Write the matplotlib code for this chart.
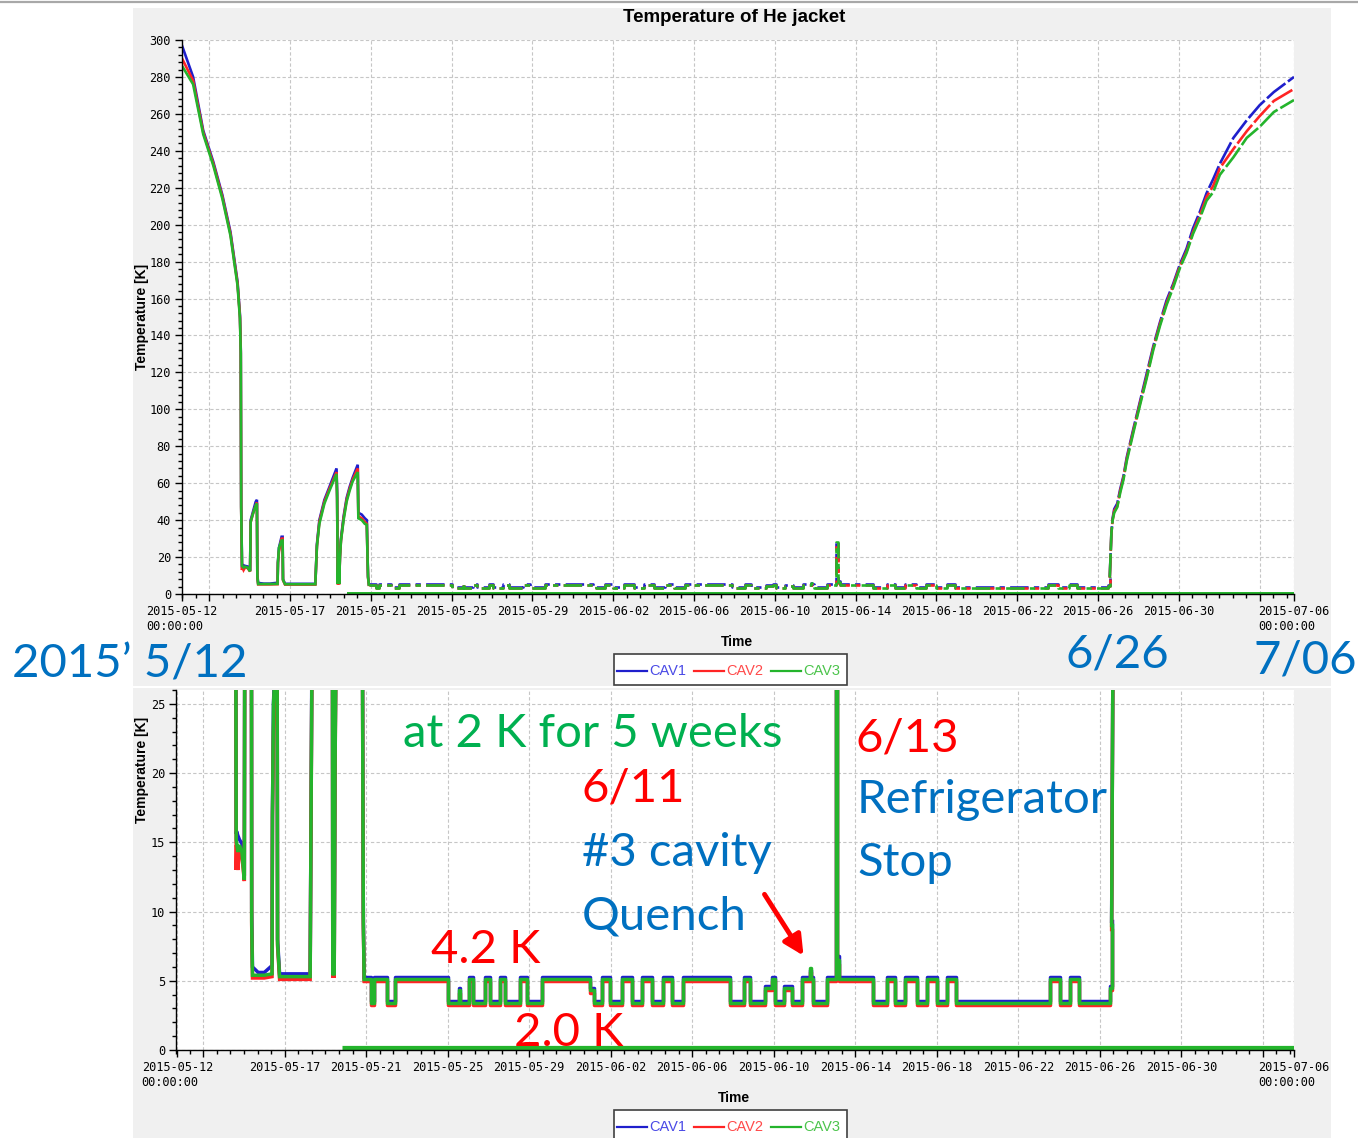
import numpy as np
import matplotlib
matplotlib.use('Agg')
import matplotlib.pyplot as plt
import matplotlib.dates as mdates
from matplotlib.patches import Rectangle, FancyArrowPatch
from matplotlib.lines import Line2D

W, H = 1358, 1138

# ---------------- data (days after 2015-05-12 00:00) ----------------
# cool-down part (linear segments)
cool_days = [-0.35, 0.2, 0.7, 1.2, 1.65, 2.05, 2.4, 2.52, 2.56, 2.58, 2.62, 2.64, 2.70, 2.78, 2.90,
             3.02, 3.05, 3.15, 3.30, 3.36, 3.38, 3.42, 3.70, 4.00, 4.38, 4.40, 4.45, 4.58, 4.63, 4.65,
             4.75, 5.50, 6.25, 6.27, 6.33, 6.45, 6.70, 6.95, 7.30, 7.33, 7.36, 7.40, 7.43, 7.47, 7.52,
             7.65, 7.80, 7.95, 8.10, 8.35, 8.38, 8.55, 8.70, 8.80, 8.83, 8.86, 8.90]
cool_cav1 = [297, 280, 251, 234, 216, 196, 169, 151, 132, 48, 15.6, 15.8, 15.5, 15.2, 14.9,
             12.6, 40, 44, 50, 51, 10.2, 6.0, 5.6, 5.6, 6.1, 17.2, 25, 31, 31, 8.0,
             5.5, 5.5, 5.5, 10.8, 27, 40, 51, 58, 68, 55, 5.6, 22.5, 5.6, 21, 30,
             42, 52, 58, 63, 70, 44, 43, 41, 40, 23, 9.6, 5.26]
cool_cav2 = [290, 278, 250, 233, 215, 195, 168, 150, 131, 47, 13.0, 14.8, 13.0, 14.5, 14.0,
             12.2, 39, 43, 48, 49.5, 9.0, 5.2, 5.2, 5.2, 5.3, 16.8, 23, 30, 30, 7.5,
             5.1, 5.1, 5.1, 10.5, 26, 39, 50, 57, 66, 52, 5.2, 21.5, 5.2, 20, 29,
             41, 51, 57, 62, 68, 42, 41, 39, 38, 22, 9.0, 4.98]
cool_cav3 = [286, 276, 249, 232, 214, 194, 167, 149, 130, 47, 15.2, 15.0, 14.3, 14.8, 14.3,
             12.3, 39, 43, 48, 49, 9.3, 5.4, 5.4, 5.4, 5.5, 17, 25, 29, 29, 7.7,
             5.3, 5.3, 5.3, 10.6, 26, 38, 49, 56, 65, 52, 5.4, 22, 5.4, 20, 29,
             40, 50, 56, 61, 66, 41, 40, 38, 37.5, 22, 9.2, 5.12]

# cold operation (step changes)
cold_days = [8.90, 9.26, 9.38, 10.00, 10.39, 13.00, 13.55, 13.62, 14.04, 14.25, 14.85, 15.07,
             15.55, 15.83, 16.53, 16.90, 17.63, 20.00, 20.16, 20.57, 20.97, 21.55, 22.04, 22.53,
             23.02, 23.56, 24.00, 24.54, 26.86, 27.52, 27.84, 28.58, 28.90, 29.07, 29.48, 29.89,
             30.38, 30.78, 30.85, 30.95, 31.60, 32.05, 32.12, 32.20, 33.88, 34.54, 34.95, 35.44,
             36.01, 36.50, 36.99, 37.51, 37.94, 42.54, 43.03, 43.56, 43.98, 45.50, 45.58]
cold_cav1 = [5.26, 3.56, 5.26, 3.56, 5.26, 3.56, 4.45, 3.56, 5.26, 3.56, 5.26, 3.56,
             5.26, 3.56, 5.26, 3.56, 5.26, 4.45, 3.56, 5.26, 3.56, 5.26, 3.56, 5.26,
             3.56, 5.26, 3.56, 5.26, 3.56, 5.26, 3.56, 4.65, 5.26, 3.56, 4.65, 3.56,
             5.26, 5.75, 5.26, 3.56, 5.26, 28.5, 6.8, 5.26, 3.56, 5.26, 3.56, 5.26,
             3.56, 5.26, 3.56, 5.26, 3.56, 5.26, 3.56, 5.26, 3.56, 4.65, 9.3]
cold_cav2 = [4.98, 3.28, 4.98, 3.28, 4.98, 3.28, 4.15, 3.28, 4.98, 3.28, 4.98, 3.28,
             4.98, 3.28, 4.98, 3.28, 4.98, 4.15, 3.28, 4.98, 3.28, 4.98, 3.28, 4.98,
             3.28, 4.98, 3.28, 4.98, 3.28, 4.98, 3.28, 4.35, 4.98, 3.28, 4.35, 3.28,
             4.98, 5.6, 4.98, 3.28, 4.98, 27.5, 6.2, 4.98, 3.28, 4.98, 3.28, 4.98,
             3.28, 4.98, 3.28, 4.98, 3.28, 4.98, 3.28, 4.98, 3.28, 4.35, 8.7]
cold_cav3 = [5.12, 3.42, 5.12, 3.42, 5.12, 3.42, 4.3, 3.42, 5.12, 3.42, 5.12, 3.42,
             5.12, 3.42, 5.12, 3.42, 5.12, 4.3, 3.42, 5.12, 3.42, 5.12, 3.42, 5.12,
             3.42, 5.12, 3.42, 5.12, 3.42, 5.12, 3.42, 4.5, 5.12, 3.42, 4.5, 3.42,
             5.12, 5.9, 5.12, 3.42, 5.12, 28.0, 6.5, 5.12, 3.42, 5.12, 3.42, 5.12,
             3.42, 5.12, 3.42, 5.12, 3.42, 5.12, 3.42, 5.12, 3.42, 4.5, 9.0]

# warm-up (linear)
warm_days = [45.58, 45.66, 45.72, 45.80, 45.95, 46.10, 46.26, 46.42, 46.76, 47.07, 47.40, 47.73,
             48.06, 48.39, 48.72, 49.05, 49.38, 49.70, 50.04, 50.37, 50.70, 51.03, 51.70, 52.36,
             53.00, 53.70, 54.70]
warm_cav1 = [9.3, 33, 41, 46, 49, 57, 64, 74, 90, 104, 119, 134,
             147, 159, 168, 178.5, 187, 198, 207, 217, 224.7, 233, 247, 256.5,
             264.7, 271.8, 280]
warm_cav2 = [8.7, 33, 40, 45, 47.5, 56, 63, 73, 89, 103, 117.5, 133,
             146, 157.5, 167, 177.5, 185.5, 196, 205, 215, 221, 230.6, 241, 250.6,
             258.8, 267, 273.5]
warm_cav3 = [9.0, 33, 40, 44, 47, 55, 62, 72, 88, 102, 116.5, 132,
             145, 156.5, 166, 176.5, 184.7, 195, 203.5, 213, 217.6, 227, 236.5, 247,
             253, 261, 267.5]

# flat trace lying on the axis (2 K region)
zero_days = [7.80, 54.70]
zero_temp = [0.15, 0.15]

series = ['CAV1', 'CAV2', 'CAV3']
colors = ['#1f1fcc', '#ff2424', '#24b42c']
text_colors = ['#4a4ae6', '#ff4a4a', '#4cc44c']

tick_dates = ['2015-05-13', '2015-05-17', '2015-05-21', '2015-05-25', '2015-05-29', '2015-06-02',
              '2015-06-06', '2015-06-10', '2015-06-14', '2015-06-18', '2015-06-22', '2015-06-26',
              '2015-06-30', '2015-07-04']
tick_labels = ['', '2015-05-17', '2015-05-21', '2015-05-25', '2015-05-29', '2015-06-02',
               '2015-06-06', '2015-06-10', '2015-06-14', '2015-06-18', '2015-06-22', '2015-06-26',
               '2015-06-30', '']
edge_labels = ['2015-05-12\n00:00:00', '2015-07-06\n00:00:00']

# ---------------- figure ----------------
t0 = mdates.datestr2num('2015-05-12')
fig = plt.figure(figsize=(W / 100, H / 100), dpi=100)
fig.patch.set_facecolor('white')

def fx(x):
    return x / W

def fy(y):
    return 1 - y / H

# grey screenshot panels
for x0, y0, x1, y1 in [(133, 8, 1331, 686), (133, 688, 1331, 1138)]:
    fig.patches.append(Rectangle((fx(x0), fy(y1)), (x1 - x0) / W, (y1 - y0) / H,
                                 transform=fig.transFigure, facecolor='#f0f0f0',
                                 edgecolor='none', zorder=-10))
fig.add_artist(Line2D([0, 1], [fy(1.5), fy(1.5)], color='#a8a8a8', lw=1.6))

ax1 = fig.add_axes([fx(182), fy(594), (1294 - 182) / W, (594 - 40) / H])
ax2 = fig.add_axes([fx(176), fy(1050), (1294 - 176) / W, (1050 - 690) / H])

cav_data = [(cool_cav1, cold_cav1, warm_cav1),
            (cool_cav2, cold_cav2, warm_cav2),
            (cool_cav3, cold_cav3, warm_cav3)]


def draw(ax, xl, ymax, ymaj, ymin, lw, cold_ls, warm_ls):
    ax.set_facecolor('white')
    for (cool, cold, warm), c in zip(cav_data, colors):
        ax.plot(t0 + np.array(cool_days), cool, color=c, lw=lw, solid_joinstyle='miter')
        ax.step(t0 + np.array(cold_days), cold, where='post', color=c, lw=lw, ls=cold_ls)
        ax.plot(t0 + np.array(warm_days), warm, color=c, lw=lw, ls=warm_ls)
    ax.plot(t0 + np.array(zero_days), zero_temp, color=colors[2], lw=lw * 1.5,
            solid_capstyle='butt')

    xlo, xhi = t0 + xl[0], t0 + xl[1]
    ax.set_xlim(xlo, xhi)
    ax.set_ylim(0, ymax)
    grid = [mdates.datestr2num(d) for d in tick_dates]
    ax.set_xticks([xlo] + grid + [xhi])
    lbls = ax.set_xticklabels([edge_labels[0]] + tick_labels + [edge_labels[1]])
    lbls[0].set_multialignment('left')
    lbls[-1].set_multialignment('left')
    ax.set_xticks(np.arange(grid[0] - 4 / 3, xhi, 2 / 3), minor=True)
    ax.set_yticks(np.arange(0, ymax + 0.1, ymaj))
    ax.set_yticks(np.arange(0, ymax + 0.1, ymin), minor=True)

    for s in ['top', 'right']:
        ax.spines[s].set_visible(False)
    for s in ['left', 'bottom']:
        ax.spines[s].set_linewidth(1.0)
        ax.spines[s].set_color('black')
    ax.tick_params(which='both', direction='out', width=1, color='black',
                   labelsize=8.6, labelfontfamily='DejaVu Sans Mono')
    ax.tick_params(which='major', length=5, pad=3)
    ax.tick_params(which='minor', length=3)
    ax.grid(which='major', color='#c6c6c6', linestyle=(0, (3, 2)), lw=0.8)
    ax.set_axisbelow(True)


# top screenshot: sparse logging makes the flat / slow parts look broken
draw(ax1, (-0.35, 54.70), 300, 20, 4, 1.9, (0, (7, 2, 2, 2)), (0, (9, 1.2)))
draw(ax2, (-0.27, 54.53), 26, 5, 1, 2.5, '-', '-')

# chart texts
fig.text(fx(734.5), fy(18), 'Temperature of He jacket', ha='center', va='center',
         fontsize=13.5, fontweight='bold', family='Liberation Sans')
for yc in [317, 770]:
    fig.text(fx(142), fy(yc), 'Temperature [K]', ha='center', va='center', rotation=90,
             fontsize=10, fontweight='bold', family='Liberation Sans')
for x, y in [(737, 642), (734, 1098)]:
    fig.text(fx(x), fy(y), 'Time', ha='center', va='center', fontsize=10,
             fontweight='bold', family='Liberation Sans')

# legends
def legend(y_top):
    fig.patches.append(Rectangle((fx(614), fy(y_top + 31)), 233 / W, 31 / H,
                                 transform=fig.transFigure, facecolor='white',
                                 edgecolor='#404040', lw=1.2, zorder=3))
    yc = y_top + 17
    for i, (name, c, tc) in enumerate(zip(series, colors, text_colors)):
        x0 = 617 + i * 77
        fig.add_artist(Line2D([fx(x0), fx(x0 + 30)], [fy(yc), fy(yc)], color=c, lw=1.6,
                              zorder=4))
        fig.text(fx(x0 + 32), fy(yc), name, ha='left', va='center', color=tc,
                 fontsize=10.5, family='Liberation Sans', zorder=4)

legend(654)
legend(1110)

# slide annotations
blue, green, red = '#0070c0', '#00b050', '#ff0000'
notes = [('2015\u2019 5/12', 12, 677, blue), ('6/26', 1066, 667, blue), ('7/06', 1253, 673, blue),
         ('at 2 K for 5 weeks', 403, 747, green), ('6/11', 581, 802, red),
         ('#3 cavity', 582, 866, blue), ('Quench', 582, 930, blue), ('6/13', 856, 752, red),
         ('Refrigerator', 857, 813, blue), ('Stop', 857, 876, blue), ('4.2 K', 431, 963, red),
         ('2.0 K', 514, 1046, red)]
for txt, x, y, c in notes:
    fig.text(fx(x), fy(y), txt, ha='left', va='baseline', color=c, fontsize=34,
             family='Lato', zorder=6)

fig.add_artist(FancyArrowPatch((fx(763), fy(892)), (fx(805), fy(958)),
                               transform=fig.transFigure, arrowstyle='-|>',
                               mutation_scale=30, lw=3.5, color=red, zorder=6))

fig.savefig('out.png', dpi=100)
